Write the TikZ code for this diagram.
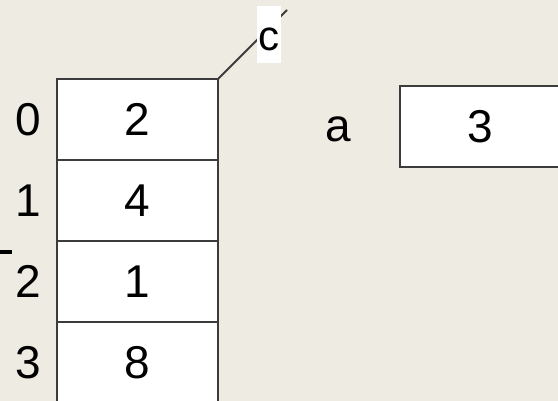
\documentclass[tikz,border=0pt]{standalone}
\usepackage{fontspec}
\setmainfont{Liberation Sans}
\usetikzlibrary{positioning}
\definecolor{paper}{RGB}{238,235,227}
\definecolor{boxline}{RGB}{60,60,60}

\begin{document}
\begin{tikzpicture}[x=1pt, y=1pt, font=\fontsize{46}{50}\selectfont,
  cell/.style={draw=boxline, fill=white, line width=2pt, minimum width=161pt, minimum height=81pt, outer sep=0pt, inner sep=0pt},
  idx/.style={inner sep=0pt}]
  \fill[paper] (0,0) rectangle (558,401);
  \useasboundingbox (0,0) rectangle (558,401);
  % array c
  \foreach \v [count=\i from 0] in {2,4,1,8} {
    \node[cell] (c\i) at (137.5, 281.5-81*\i) {\v};
    \node[idx, left=16pt of c\i] (i\i) {\i};
  }
  \coordinate (ctip) at (287,391);
  \draw[boxline, line width=1.8pt] (c0.north east) -- (ctip);
  \node[fill=white, inner sep=0pt, minimum width=24pt, minimum height=57pt, text height=32pt,
    font=\fontsize{42}{46}\selectfont] (clab) at (269,366.5) {c};
  % variable a
  \node[cell] (abox) at (480.5,274.5) {3};
  \node[idx, left=49pt of abox, yshift=-3pt] (alab) {a};
  \draw[line width=4pt] (0,149) -- (12,149);
\end{tikzpicture}
\end{document}
